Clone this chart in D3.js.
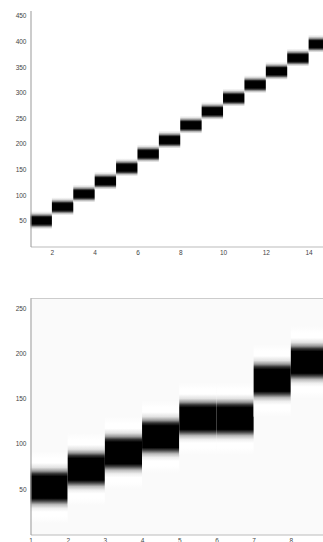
<!DOCTYPE html>
<html>
<head>
<meta charset="utf-8">
<script src="https://cdn.jsdelivr.net/npm/d3@7"></script>
<style>
  html, body { margin: 0; padding: 0; background: #fff; overflow: hidden; }
  svg { display: block; }
  .tick text { font-family: "Liberation Sans", Arial, sans-serif; font-size: 6.5px; fill: #444; }
</style>
</head>
<body>
<svg id="chart" width="323" height="542"></svg>
<script>
// top heatmap: one column per step, value = centre of the dark band
const topSteps = [1, 2, 3, 4, 5, 6, 7, 8, 9, 10, 11, 12, 13, 14];
const topCenters = [50, 77, 102, 127, 153, 180, 207, 236, 263, 289, 315, 341, 367, 394];
const topYTicks = [50, 100, 150, 200, 250, 300, 350, 400, 450];
const topXTicks = [2, 4, 6, 8, 10, 12, 14];

// bottom heatmap
const botSteps = [1, 2, 3, 4, 5, 6, 7, 8];
const botCenters = [52, 72, 90, 108, 128, 128, 170, 190];
const botYTicks = [50, 100, 150, 200, 250];
const botXTicks = [1, 2, 3, 4, 5, 6, 7, 8];

// band shape (units above the centre -> colour)
const topProfile = [[19, "#fff"], [15, "#e4e4e4"], [11, "#888"], [8, "#111"], [6, "#000"], [-6, "#000"], [-9, "#444"], [-12, "#bbb"], [-16, "#fff"]];
const botProfile = [[40, "#fafafa"], [32, "#fff"], [27, "#fff"], [22, "#e2e2e2"], [18, "#999"], [15, "#333"], [12, "#000"], [-12, "#000"], [-15, "#444"], [-19, "#bbb"], [-23, "#eee"], [-27, "#fff"], [-32, "#fff"], [-40, "#fafafa"]];

const svg = d3.select("#chart");
const defs = svg.append("defs");

function drawPanel(id, steps, centers, profile, x, y, xTicks, yTicks, opts) {
  const g = svg.append("g");
  const [yBot, yTop] = y.range();

  if (opts.bg) {
    g.append("rect")
      .attr("x", x.range()[0]).attr("y", yTop)
      .attr("width", x.range()[1] - x.range()[0]).attr("height", yBot - yTop)
      .attr("fill", opts.bg);
  }

  const ext = profile[0][0];
  const ext2 = profile[profile.length - 1][0];
  steps.forEach((s, i) => {
    const gid = id + "-g" + i;
    const grad = defs.append("linearGradient")
      .attr("id", gid)
      .attr("x1", 0).attr("x2", 0).attr("y1", 0).attr("y2", 1);
    profile.forEach(p => {
      grad.append("stop")
        .attr("offset", (ext - p[0]) / (ext - ext2))
        .attr("stop-color", p[1]);
    });
    g.append("rect")
      .attr("x", x(s))
      .attr("width", x(s + 1) - x(s))
      .attr("y", y(centers[i] + ext))
      .attr("height", y(centers[i] + ext2) - y(centers[i] + ext))
      .attr("fill", "url(#" + gid + ")");
  });

  if (opts.frame) {
    g.append("line")
      .attr("x1", x.range()[0]).attr("x2", x.range()[1])
      .attr("y1", yTop + 0.5).attr("y2", yTop + 0.5)
      .attr("stroke", "#ccc");
  }

  const xa = g.append("g")
    .attr("transform", "translate(0," + yBot + ")")
    .call(d3.axisBottom(x).tickValues(xTicks).tickSize(0).tickPadding(4));
  xa.select(".domain").attr("stroke", "#bbb");

  const ya = g.append("g")
    .attr("transform", "translate(" + x.range()[0] + ",0)")
    .call(d3.axisLeft(y).tickValues(yTicks).tickSize(0).tickPadding(4));
  ya.select(".domain").attr("stroke", "#999");
}

const xTop = d3.scaleLinear().domain([1, 15]).range([30.5, 330]);
const yTopS = d3.scaleLinear().domain([0, 460]).range([246.5, 10.5]);
drawPanel("top", topSteps, topCenters, topProfile, xTop, yTopS, topXTicks, topYTicks, {});

const xBot = d3.scaleLinear().domain([1, 9]).range([30.5, 328]);
const yBotS = d3.scaleLinear().domain([0, 261]).range([534.5, 298]);
drawPanel("bot", botSteps, botCenters, botProfile, xBot, yBotS, botXTicks, botYTicks, { bg: "#fafafa", frame: true });
</script>
</body>
</html>
